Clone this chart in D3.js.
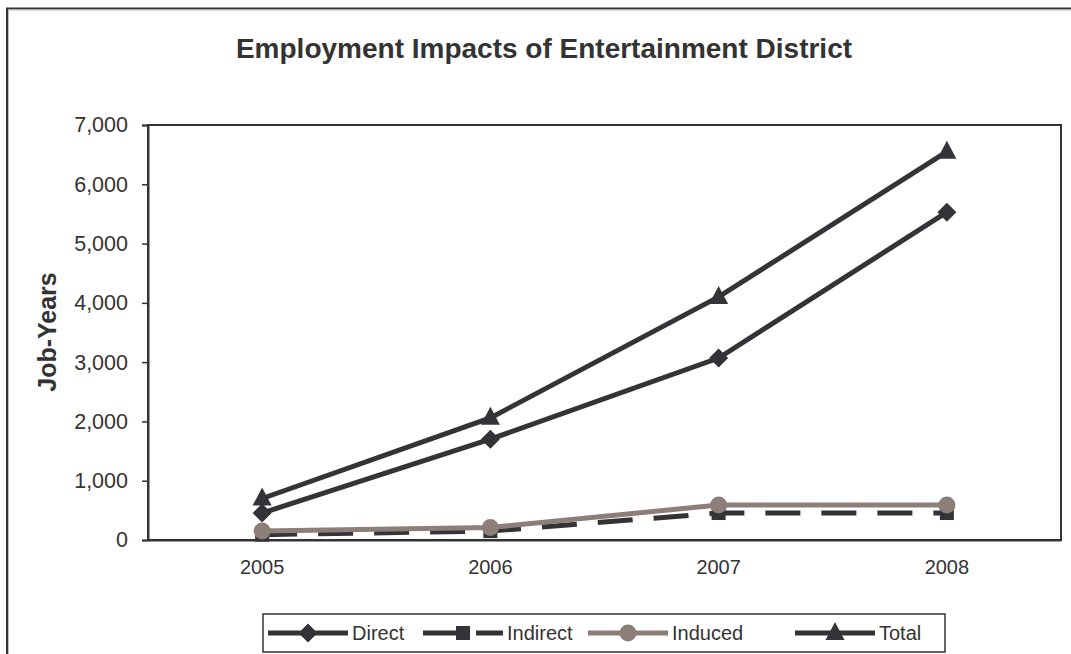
<!DOCTYPE html>
<html><head><meta charset="utf-8">
<script src="https://cdn.jsdelivr.net/npm/d3@7"></script>
<style>body{margin:0;background:#fff;} text{font-family:"Liberation Sans",Arial,sans-serif;}</style>
</head><body><svg id="c" width="1071" height="654"></svg>
<script>
const categories = ["2005","2006","2007","2008"];
const direct   = [455, 1700, 3070, 5530];
const indirect = [90, 150, 455, 455];
const induced  = [150, 210, 590, 590];
const total    = [700, 2060, 4100, 6550];
const yTicks   = [0,1000,2000,3000,4000,5000,6000,7000];
const seriesNames = ["Direct","Indirect","Induced","Total"];

const dark = "#333338", brown = "#8c7f7a";
const series = [
  {name:seriesNames[0], values:direct,   color:dark,  dash:null,    legDash:null,      marker:"diamond"},
  {name:seriesNames[1], values:indirect, color:dark,  dash:"35,21", legDash:"47,6,60", marker:"square"},
  {name:seriesNames[2], values:induced,  color:brown, dash:null,    legDash:null,      marker:"circle"},
  {name:seriesNames[3], values:total,    color:dark,  dash:null,    legDash:null,      marker:"triangle"}
];

const svg = d3.select("#c");
// outer frame
svg.append("rect").attr("x",7).attr("y",8.5).attr("width",1200).attr("height",800)
  .attr("fill","none").attr("stroke","#333").attr("stroke-width",2);
svg.append("rect").attr("x",8.5).attr("y",10).attr("width",1200).attr("height",800)
  .attr("fill","none").attr("stroke","#bbb").attr("stroke-width",1);

const L=148,T=125,R=1061,B=540;
const x = d3.scaleBand().domain(categories).range([L,R]);
const y = d3.scaleLinear().domain([0,7000]).range([B,T]);

svg.append("text").attr("x",544).attr("y",58).attr("text-anchor","middle")
  .attr("font-size",28).attr("font-weight","bold").attr("fill","#333")
  .text("Employment Impacts of Entertainment District");

// plot frame
svg.append("rect").attr("x",L).attr("y",T).attr("width",R-L).attr("height",B-T)
  .attr("fill","none").attr("stroke","#333").attr("stroke-width",2);

const ya = svg.append("g").attr("transform",`translate(${L},0)`)
  .call(d3.axisLeft(y).tickValues(yTicks).tickFormat(d3.format(",")).tickSize(6).tickPadding(14));
ya.select(".domain").attr("stroke","#333").attr("stroke-width",2);
ya.selectAll(".tick line").attr("stroke","#333").attr("stroke-width",1.5);
ya.selectAll(".tick text").attr("font-size",21.5).attr("fill","#333").attr("font-family","Liberation Sans, Arial, sans-serif");

const xa = svg.append("g").attr("transform",`translate(0,${B})`)
  .call(d3.axisBottom(x).tickSize(0).tickPadding(20));
xa.select(".domain").attr("stroke","#333").attr("stroke-width",2);
xa.selectAll(".tick text").attr("font-size",20).attr("fill","#333").attr("font-family","Liberation Sans, Arial, sans-serif");

svg.append("text").attr("transform","translate(56,332) rotate(-90)")
  .attr("text-anchor","middle").attr("font-size",25).attr("font-weight","bold").attr("fill","#333")
  .text("Job-Years");

const cx = c => x(c)+x.bandwidth()/2;
function drawMarker(g, type, px, py, color){
  if(type==="diamond"){
    g.append("path").attr("d",`M${px},${py-9.5}L${px+9.5},${py}L${px},${py+9.5}L${px-9.5},${py}Z`).attr("fill",color);
  } else if(type==="square"){
    g.append("rect").attr("x",px-7).attr("y",py-7).attr("width",14).attr("height",14).attr("fill",color);
  } else if(type==="circle"){
    g.append("circle").attr("cx",px).attr("cy",py).attr("r",8.5).attr("fill",color);
  } else {
    g.append("path").attr("d",`M${px},${py-11}L${px+9.5},${py+7}L${px-9.5},${py+7}Z`).attr("fill",color);
  }
}
const line = d3.line().x((d,i)=>cx(categories[i])).y(d=>y(d));
series.forEach(s=>{
  const g = svg.append("g");
  g.append("path").attr("d",line(s.values)).attr("fill","none").attr("stroke",s.color)
    .attr("stroke-width",5).attr("stroke-dasharray",s.dash);
  s.values.forEach((v,i)=>drawMarker(g,s.marker,cx(categories[i]),y(v),s.color));
});

// legend
svg.append("rect").attr("x",263).attr("y",614).attr("width",682).attr("height",38)
  .attr("fill","#fff").attr("stroke","#333").attr("stroke-width",1.5);
const lx = [268,423,588,795];
series.forEach((s,i)=>{
  const g = svg.append("g");
  const x0 = lx[i], x1 = x0+80, ly = 633;
  g.append("line").attr("x1",x0).attr("x2",x1).attr("y1",ly).attr("y2",ly)
    .attr("stroke",s.color).attr("stroke-width",5).attr("stroke-dasharray",s.legDash);
  drawMarker(g,s.marker,(x0+x1)/2,ly,s.color);
  g.append("text").attr("x",x1+4).attr("y",ly+7).attr("font-size",20).attr("fill","#333").text(s.name);
});
</script></body></html>
